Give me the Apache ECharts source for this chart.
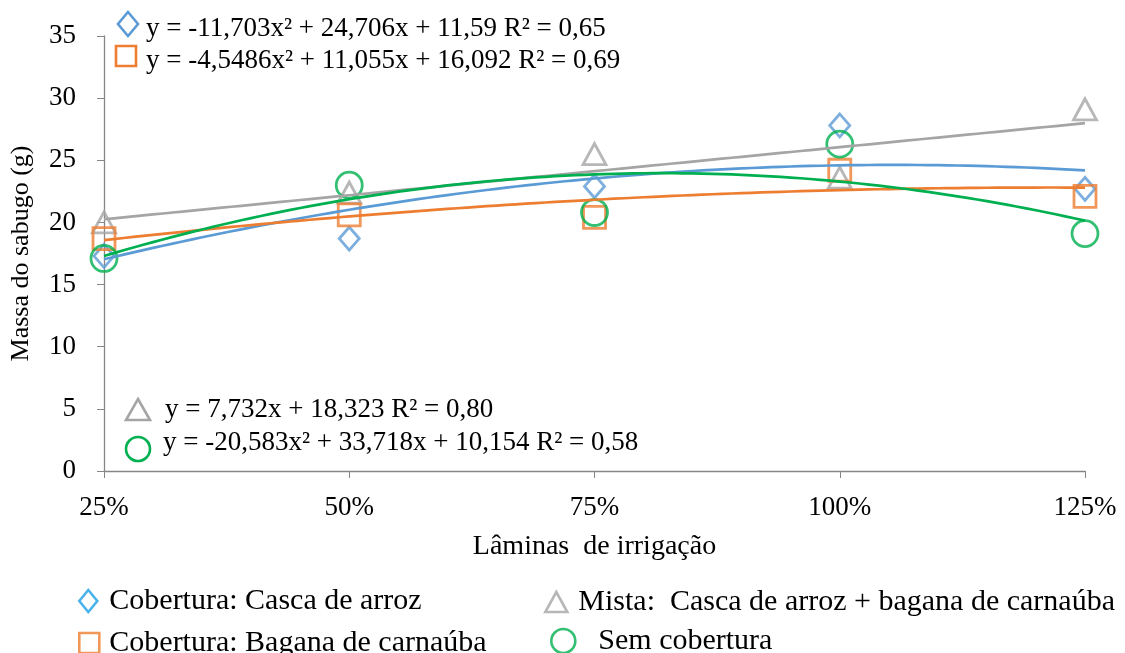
<!DOCTYPE html>
<html><head><meta charset="utf-8">
<script src="https://cdn.jsdelivr.net/npm/echarts@6/dist/echarts.min.js"></script>
<style>html,body{margin:0;padding:0;background:#fff}#c{width:1125px;height:653px}</style>
</head><body><div id="c"></div>
<script>
// Irrigation levels (fraction of ETo)
const laminas = [0.25, 0.50, 0.75, 1.00, 1.25];
const seriesNames = ['Cobertura: Casca de arroz', 'Mista:  Casca de arroz + bagana de carnaúba', 'Cobertura: Bagana de carnaúba', 'Sem cobertura'];
const cascaArroz = [17.3, 18.7, 22.9, 27.8, 22.7];
const mista = [20.0, 22.4, 25.5, 23.6, 29.1];
const bagana = [18.7, 20.6, 20.4, 24.2, 22.1];
const semCobertura = [17.1, 23.0, 20.8, 26.3, 19.1];
// Trendline coefficients printed on the chart: [a, b, c] for y = a x^2 + b x + c
const coefCasca = [-11.703, 24.706, 11.59];
const coefMista = [0, 7.732, 18.323];
const coefBagana = [-4.5486, 11.055, 16.092];
const coefSem = [-20.583, 33.718, 10.154];
const eqTexts = [
  'y = -11,703x² + 24,706x + 11,59 R² = 0,65',
  'y = -4,5486x² + 11,055x + 16,092 R² = 0,69',
  'y = 7,732x + 18,323 R² = 0,80',
  'y = -20,583x² + 33,718x + 10,154 R² = 0,58'
];
const yTicks = [0, 35, 5];

const colors = ['#5B9BD5', '#A5A5A5', '#ED7D31', '#00B050'];
const legendColors = ['#1EA0E6', '#A5A5A5', '#ED7D31', '#00B050'];
const symbols = ['diamond', 'triangle', 'rect', 'circle'];
const legendIcons = ['path://M9,0L18,11L9,22L0,11Z', 'path://M11,0L22,20L0,20Z', 'rect', 'circle'];
const symSizes = [[20, 23], [23, 21], [22, 22], [26, 26]];
const datasets = [cascaArroz, mista, bagana, semCobertura];
const coefs = [coefCasca, coefMista, coefBagana, coefSem];

function curve(c) {
  const pts = [];
  for (let i = 0; i <= 100; i++) {
    const x = laminas[0] + (laminas[laminas.length - 1] - laminas[0]) * i / 100;
    pts.push([x, c[0] * x * x + c[1] * x + c[2]]);
  }
  return pts;
}

const FONT = '"Liberation Serif", "Times New Roman", serif';
const series = [];
datasets.forEach((d, i) => {
  series.push({
    name: seriesNames[i], type: 'scatter', symbol: symbols[i], symbolSize: symSizes[i],
    data: laminas.map((x, j) => [x, d[j]]),
    itemStyle: { color: 'rgba(255,255,255,0)', borderColor: colors[i], borderWidth: 2.8 },
    z: 3, silent: true
  });
});
coefs.forEach((c, i) => {
  series.push({
    type: 'line', data: curve(c), showSymbol: false, smooth: false,
    lineStyle: { color: colors[i], width: 2.7 }, z: 4, silent: true
  });
});

function legendAt(i, left, top, w, h, pad) {
  return {
    data: [{ name: seriesNames[i], icon: legendIcons[i],
      itemStyle: { color: 'rgba(255,255,255,0)', borderColor: legendColors[i], borderWidth: 2.6 } }],
    left: left, top: top, itemWidth: w, itemHeight: h, itemGap: 0, padding: 0,
    textStyle: { fontFamily: FONT, fontSize: 30, color: '#000', padding: [0, 0, 0, pad] },
    selectedMode: false
  };
}

const graphic = [];
function sym(type, cx, cy, color) {
  const st = { fill: 'none', stroke: color, lineWidth: 2.6 };
  if (type === 'diamond') graphic.push({ type: 'polygon', shape: { points: [[cx, cy - 12], [cx + 10, cy], [cx, cy + 12], [cx - 10, cy]] }, style: st });
  if (type === 'rect') graphic.push({ type: 'rect', shape: { x: cx - 10, y: cy - 10, width: 20, height: 20 }, style: st });
  if (type === 'triangle') graphic.push({ type: 'polygon', shape: { points: [[cx, cy - 11], [cx + 12, cy + 10], [cx - 12, cy + 10]] }, style: st });
  if (type === 'circle') graphic.push({ type: 'circle', shape: { cx: cx, cy: cy, r: 12 }, style: st });
}
function txt(t, x, y) {
  graphic.push({ type: 'text', x: x, y: y, style: { text: t, font: '27px ' + FONT, fill: '#000', verticalAlign: 'middle' } });
}
sym('diamond', 128, 24, colors[0]); txt(eqTexts[0], 146, 29);
sym('rect', 126, 56, colors[2]); txt(eqTexts[1], 146, 61);
sym('triangle', 138, 410, colors[1]); txt(eqTexts[2], 165, 410);
sym('circle', 138, 449, colors[3]); txt(eqTexts[3], 163, 443);

const chart = echarts.init(document.getElementById('c'));
chart.setOption({
  animation: false,
  backgroundColor: '#fff',
  grid: { left: 104, right: 40, top: 36, bottom: 182 },
  xAxis: {
    type: 'value', min: laminas[0], max: laminas[laminas.length - 1], interval: 0.25,
    name: 'Lâminas  de irrigação', nameLocation: 'middle', nameGap: 62,
    nameTextStyle: { fontFamily: FONT, fontSize: 28, color: '#000' },
    axisLine: { lineStyle: { color: '#868686', width: 1.3 } },
    axisTick: { show: true, length: 7, lineStyle: { color: '#868686' } },
    axisLabel: { fontFamily: FONT, fontSize: 27, color: '#000', margin: 23, showMinLabel: true, showMaxLabel: true,
      formatter: v => Math.round(v * 100) + '%' },
    splitLine: { show: false }
  },
  yAxis: {
    type: 'value', min: yTicks[0], max: yTicks[1], interval: yTicks[2],
    name: 'Massa do sabugo (g)', nameLocation: 'middle', nameGap: 70,
    nameTextStyle: { fontFamily: FONT, fontSize: 26, color: '#000' },
    axisLine: { show: true, lineStyle: { color: '#868686', width: 1.3 } },
    axisTick: { show: true, length: 7, lineStyle: { color: '#868686' } },
    axisLabel: { fontFamily: FONT, fontSize: 27, color: '#000', margin: 28 },
    splitLine: { show: false }
  },
  legend: [
    legendAt(0, 78, 586, 18, 22, 7),
    legendAt(1, 544, 587, 22, 20, 6),
    legendAt(2, 78, 628, 20, 20, 5),
    legendAt(3, 550, 626, 24, 24, 18)
  ],
  graphic: graphic,
  series: series
});
</script></body></html>
